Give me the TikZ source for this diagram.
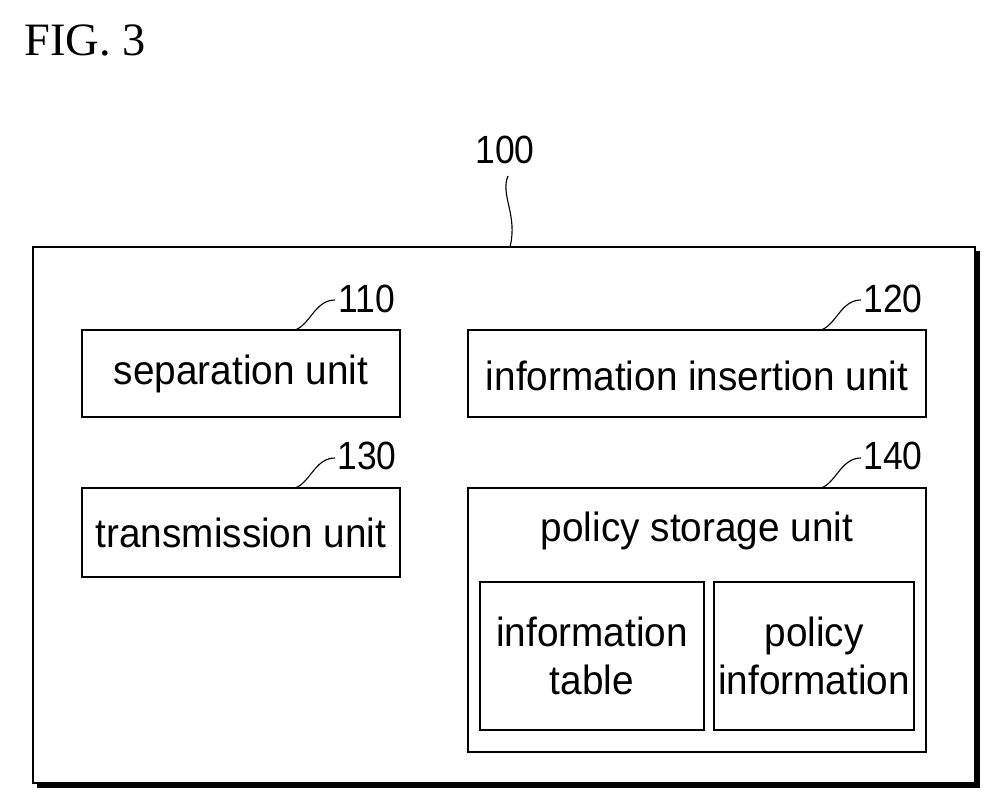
\documentclass[tikz,border=0pt]{standalone}
\usepackage{fontspec}
\setmainfont{Liberation Sans}
\newfontfamily\serif{Liberation Serif}
\begin{document}
\begin{tikzpicture}[x=0.025cm,y=-0.025cm,
 box/.style={draw,line width=1.6pt},
 lab/.style={font=\fontsize{29}{31}\selectfont,xscale=0.95,inner sep=0pt},
 num/.style={font=\fontsize{28}{30}\selectfont,xscale=0.9,inner sep=0pt}]
\useasboundingbox (0,0) rectangle (1002,808);
\fill (37,251) rectangle (980,788);
\draw[box,fill=white] (33,247) rectangle (975,783);
\draw[box] (82,330) rectangle (400,417);
\node[lab] (sep) at (241,374) {separation unit};
\draw[box] (468,330) rectangle (926,417);
\node[lab] (ins) at (697,376) {information insertion unit};
\draw[box] (82,488) rectangle (400,577);
\node[lab] (tr) at (241,533) {transmission unit};
\draw[box] (468,488) rectangle (926,752);
\node[lab] (ps) at (697,531) {policy storage unit};
\draw[box] (480,582) rectangle (704,730);
\node[lab,align=center] (it) at (592,656) {information\\[3pt]table};
\draw[box] (714,582) rectangle (914,730);
\node[lab,align=center] (pi) at (814,656) {policy\\[3pt]information};
\node[font=\serif\fontsize{33}{36}\selectfont,inner sep=0pt] (fig) at (85,40) {FIG. 3};
\node[num] (n100) at (505,150) {100};
\draw[line width=0.8pt] (508,176) .. controls (500,195) and (518,215) .. (510,247);
\node[num] (n110) at (367,299) {110};
\draw[line width=0.8pt] (295,330) .. controls (310,325) and (315,300) .. (335,300);
\node[num] (n120) at (893,299) {120};
\draw[line width=0.8pt] (821,330) .. controls (836,325) and (841,300) .. (861,300);
\node[num] (n130) at (367,456) {130};
\draw[line width=0.8pt] (295,488) .. controls (310,483) and (315,458) .. (335,458);
\node[num] (n140) at (893,456) {140};
\draw[line width=0.8pt] (821,488) .. controls (836,483) and (841,458) .. (861,458);
\end{tikzpicture}
\end{document}
